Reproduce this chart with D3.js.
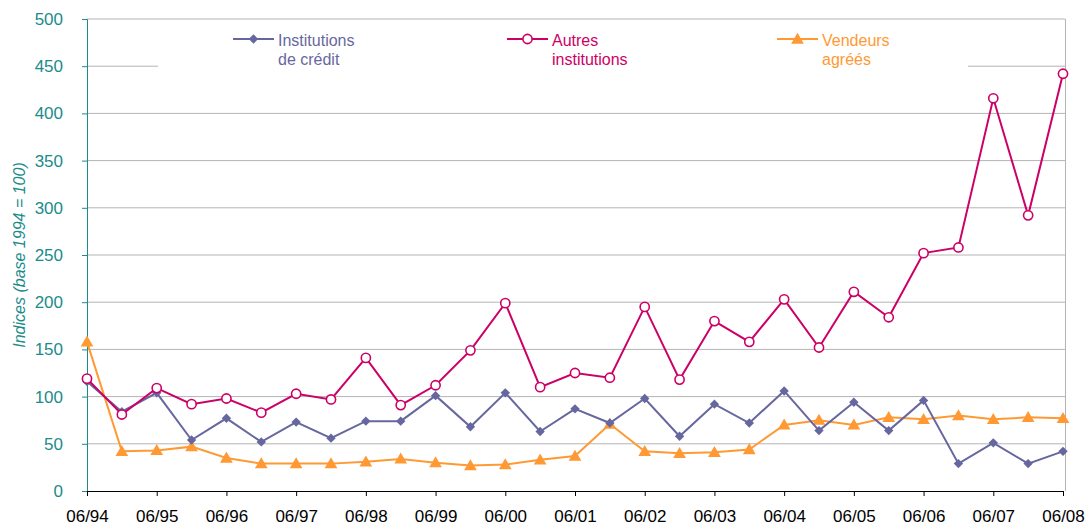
<!DOCTYPE html>
<html><head><meta charset="utf-8">
<script src="https://cdn.jsdelivr.net/npm/d3@7"></script>
<style>body{margin:0;background:#fff}svg{display:block;font-family:"Liberation Sans",Arial,sans-serif}</style>
</head><body><svg id="c" width="1089" height="527"></svg>
<script>
const periods = ["06/94","12/94","06/95","12/95","06/96","12/96","06/97","12/97","06/98","12/98","06/99","12/99","06/00","12/00","06/01","12/01","06/02","12/02","06/03","12/03","06/04","12/04","06/05","12/05","06/06","12/06","06/07","12/07","06/08"];
const xTickLabels = ["06/94","06/95","06/96","06/97","06/98","06/99","06/00","06/01","06/02","06/03","06/04","06/05","06/06","06/07","06/08"];
const yTicks = [0,50,100,150,200,250,300,350,400,450,500];
const institutionsCredit = [116,84,104,54,77,52,73,56,74,74,101,68,104,63,87,72,98,58,92,72,106,64,94,64,96,29,51,29,42];
const autresInstitutions = [119,81,109,92,98,83,103,97,141,91,112,149,199,110,125,120,195,118,180,158,203,152,211,184,252,258,416,292,442];
const vendeursAgrees = [158,42,43,47,35,29,29,29,31,34,30,27,28,33,37,71,42,40,41,44,70,75,70,78,76,80,76,78,77];
const seriesNames = [["Institutions","de crédit"],["Autres","institutions"],["Vendeurs","agréés"]];

const svg = d3.select("#c");
const L=87, R=1063, T=19, B=491;
const x = d3.scalePoint().domain(periods).range([L,R]);
const y = d3.scaleLinear().domain([0,500]).range([B,T]);
const teal="#1b8b8b", grid="#b4b4b4";
const FF="Liberation Sans, Arial, sans-serif";

// gridlines
svg.append("g").selectAll("line").data(yTicks.filter(d=>d>0)).join("line")
  .attr("x1",L).attr("x2",R+2).attr("y1",d=>y(d)).attr("y2",d=>y(d))
  .attr("stroke",grid).attr("stroke-width",1);
// right border
svg.append("line").attr("x1",R+2.5).attr("x2",R+2.5).attr("y1",T).attr("y2",B).attr("stroke",grid);

// legend background
svg.append("rect").attr("x",158).attr("y",26).attr("width",810).attr("height",50).attr("fill","#fff");

// y axis
const ya = svg.append("g").attr("transform",`translate(${L},0)`)
  .call(d3.axisLeft(y).tickValues(yTicks).tickSize(5).tickPadding(19));
ya.select(".domain").attr("stroke",teal);
ya.selectAll(".tick line").attr("stroke",teal);
ya.selectAll("text").attr("fill",teal).style("font-size","17px").attr("font-family",FF);

// x axis
const xa = svg.append("g").attr("transform",`translate(0,${B})`)
  .call(d3.axisBottom(x).tickValues(xTickLabels).tickSize(5).tickPadding(14).tickSizeOuter(0));
xa.select(".domain").attr("stroke","#000");
xa.selectAll(".tick line").attr("stroke","#000");
xa.selectAll("text").attr("fill","#000").style("font-size","17px").attr("font-family",FF);

// y label
svg.append("text").attr("transform","translate(25,255) rotate(-90)").attr("text-anchor","middle")
  .attr("fill",teal).style("font-size","16px").style("font-style","italic").text("Indices (base 1994 = 100)");

const line = d3.line().x((d,i)=>x(periods[i])).y(d=>y(d));
const cols = ["#6767a0","#cc0066","#ff9933"];
const data = [institutionsCredit, autresInstitutions, vendeursAgrees];
const tri = d3.symbol().type(d3.symbolTriangle).size(70);

function marker(g, k, cx, cy){
  if(k===0) g.append("path").attr("d",d3.symbol().type(d3.symbolSquare).size(44)()).attr("transform",`translate(${cx},${cy}) rotate(45)`).attr("fill",cols[0]);
  else if(k===1) g.append("circle").attr("cx",cx).attr("cy",cy).attr("r",4.6).attr("fill","#fff").attr("stroke",cols[1]).attr("stroke-width",1.6);
  else g.append("path").attr("d",tri()).attr("transform",`translate(${cx},${cy+1})`).attr("fill",cols[2]);
}

[2,0,1].forEach(k=>{
  const g = svg.append("g");
  g.append("path").datum(data[k]).attr("d",line).attr("fill","none").attr("stroke",cols[k]).attr("stroke-width",2);
  data[k].forEach((v,i)=>marker(g,k,x(periods[i]),y(v)));
});

// legend
const lx=[233,507,777];
seriesNames.forEach((nm,k)=>{
  const g=svg.append("g");
  g.append("line").attr("x1",lx[k]).attr("x2",lx[k]+41).attr("y1",39).attr("y2",39).attr("stroke",cols[k]).attr("stroke-width",2);
  marker(g,k,lx[k]+20.5,39);
  const t=g.append("text").attr("x",lx[k]+45).attr("y",46).attr("fill",cols[k]).style("font-size","16px").attr("font-family",FF);
  t.append("tspan").attr("x",lx[k]+45).text(nm[0]);
  t.append("tspan").attr("x",lx[k]+45).attr("dy",18.5).text(nm[1]);
});
</script></body></html>
